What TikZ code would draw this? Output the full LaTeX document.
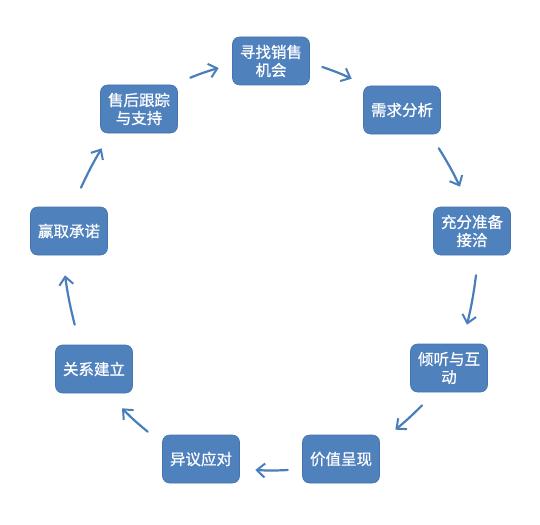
\documentclass[tikz,border=0pt]{standalone}
\usepackage{fontspec}
\setmainfont{Noto Sans CJK SC}
\newfontfamily\stagefont{Noto Sans CJK SC}[FakeBold=0.7]
\usepackage{xcolor}
\usetikzlibrary{arrows.meta}
\definecolor{boxblue}{HTML}{4F81BD}
\definecolor{boxline}{HTML}{4675AE}
\definecolor{flowblue}{HTML}{4A7EBB}

\begin{document}
\begin{tikzpicture}
    [x=1pt,y=-1pt,
     stage/.style={rectangle,rounded corners=7pt,fill=boxblue,draw=boxline,line width=0.6pt,
                   minimum width=77pt,minimum height=48pt,inner sep=2pt,align=center,
                   text=white,font=\stagefont\fontsize{15.5}{18}\selectfont},
     flow/.style={draw=flowblue,line width=2.2pt,line cap=round,
                  -{Straight Barb[length=8pt,width=14pt,line width=2pt]},bend left=3}]
\useasboundingbox (0,0) rectangle (540,524);
%the nine stages, clockwise from the top
\node[stage] (zhao)  at (271,61)  {寻找销售\\机会};
\node[stage] (xuqiu) at (402,110) {需求分析};
\node[stage] (zhunbei) at (472,231) {充分准备\\接洽};
\node[stage] (qingting) at (449,368) {倾听与互\\动};
\node[stage] (jiazhi) at (341,459) {价值呈现};
\node[stage] (yiyi)  at (201,459) {异议应对};
\node[stage] (guanxi) at (94,369) {关系建立};
\node[stage] (chengnuo) at (69,231) {赢取承诺};
\node[stage] (shouhou) at (139,109) {售后跟踪\\与支持};

%arrows between the stages
\draw[flow] ([shift={(12.5,-7)}]shouhou.north east) to ([shift={(-13.5,7)}]zhao.west);
\draw[flow] ([shift={(12.5,6)}]zhao.east) to ([shift={(-11.5,-7)}]xuqiu.north west);
\draw[flow] ([shift={(-2,14)}]xuqiu.south east) to ([shift={(-12,-20)}]zhunbei.north);
\draw[flow] ([shift={(4,20)}]zhunbei.south) to ([shift={(18,-19)}]qingting.north);
\draw[flow] ([shift={(-27,13)}]qingting.south) to ([shift={(15.5,-5)}]jiazhi.north east);
\draw[flow] ([shift={(-14.5,11)}]jiazhi.west) to ([shift={(15.5,11)}]yiyi.east);
\draw[flow] ([shift={(-14.5,-3)}]yiyi.north west) to ([shift={(28,15)}]guanxi.south);
\draw[flow] ([shift={(19.5,-20)}]guanxi.north west) to ([shift={(-4,20)}]chengnuo.south);
\draw[flow] ([shift={(12,-19)}]chengnuo.north) to ([shift={(1.5,15)}]shouhou.south west);
\end{tikzpicture}
\end{document}
